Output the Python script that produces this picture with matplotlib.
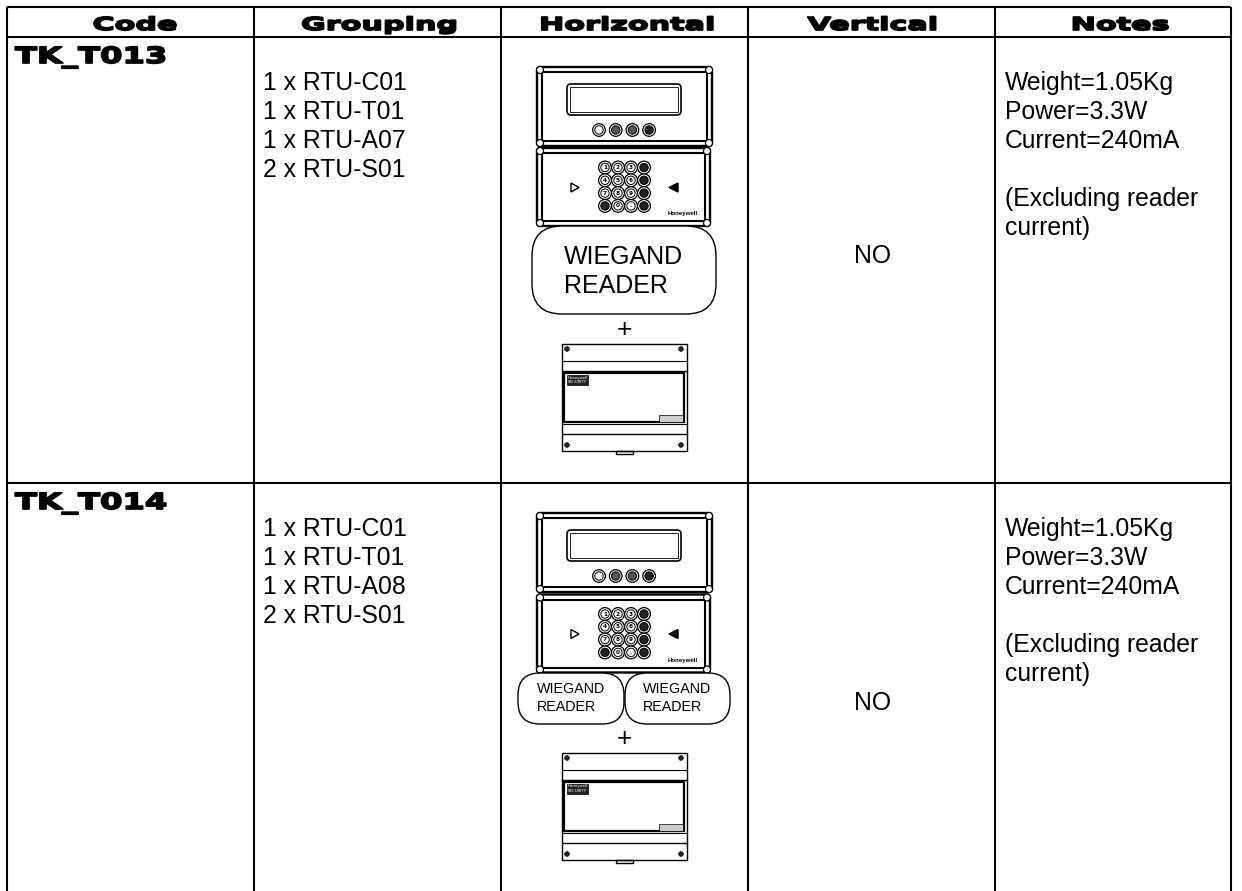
import matplotlib
matplotlib.use("Agg")
import matplotlib.pyplot as plt
from matplotlib.font_manager import FontProperties
from matplotlib.patches import Rectangle, FancyBboxPatch, Circle, Polygon
from matplotlib.text import Text
from matplotlib.textpath import TextPath
from matplotlib.transforms import Affine2D

W, H = 1242, 891

headers = ["Code", "Grouping", "Horizontal", "Vertical", "Notes"]
codes = ["TK_T013", "TK_T014"]
groupings = [
    ["1 x RTU-C01", "1 x RTU-T01", "1 x RTU-A07", "2 x RTU-S01"],
    ["1 x RTU-C01", "1 x RTU-T01", "1 x RTU-A08", "2 x RTU-S01"],
]
vertical = ["NO", "NO"]
notes = ["Weight=1.05Kg", "Power=3.3W", "Current=240mA", "", "(Excluding reader", "current)"]
keys = ["1", "2", "3", "", "4", "5", "6", "", "7", "8", "9", "", "", "0", ".", ""]

col_x = [7, 254, 501, 748, 995, 1231]
row_y = [7, 37, 483, 891]
head_nudge = [3, 0, 0, 0, 5]

TEXT = ["Liberation Sans", "DejaVu Sans"]
BODY = 17.8

fig = plt.figure(figsize=(W / 100, H / 100), dpi=100)
ax = fig.add_axes([0, 0, 1, 1])
ax.set_xlim(0, W)
ax.set_ylim(H, 0)
ax.axis("off")


class WideText(Text):
    # no heavy extended face installed, so stretch DejaVu Bold sideways when drawing
    stretch = 1.7
    stroke = 0.9

    def draw(self, renderer):
        prop = FontProperties(family="DejaVu Sans", weight="bold")
        path = TextPath((0, 0), self.get_text(), size=self.get_fontsize() * 100 / 72, prop=prop)
        box = path.get_extents()
        x, y = self.get_transform().transform(self.get_position())
        dx = -box.width * self.stretch / 2 if self.get_ha() == "center" else 0
        tr = Affine2D().scale(self.stretch, 1).translate(x + dx, y)
        gc = renderer.new_gc()
        gc.set_foreground("black")
        gc.set_linewidth(self.stroke * 100 / 72)
        renderer.draw_path(gc, path, tr, (0, 0, 0, 1))
        gc.restore()


def wide(x, y, s, size, stretch, ha="center"):
    t = WideText(x, y, s, fontsize=size, ha=ha, va="baseline")
    t.stretch = stretch
    ax.add_artist(t)


def label(x, y, s, size=BODY, **kw):
    ax.text(x, y, s, fontsize=size, family=TEXT, va="center", color="black", **kw)


def rect(x0, y0, x1, y1, lw=1.0, fc="none"):
    ax.add_patch(Rectangle((x0, y0), x1 - x0, y1 - y0, fc=fc, ec="black", lw=lw))


def round_box(x0, y0, x1, y1, rad, lw=1.0):
    ax.add_patch(FancyBboxPatch((x0 + rad, y0 + rad), x1 - x0 - 2 * rad, y1 - y0 - 2 * rad,
                                boxstyle="round,pad={},rounding_size={}".format(rad, rad),
                                fc="white", ec="black", lw=lw))


def dot(x, y, r, fc="white", lw=0.8):
    ax.add_patch(Circle((x, y), r, fc=fc, ec="black", lw=lw))


def bezel(x0, y0, x1, y1):
    round_box(x0, y0, x1, y1, 3, lw=1.7)
    rect(x0 + 5, y0 + 5, x1 - 5, y1 - 5, lw=1.5)
    for cx, cy in [(x0 + 3, y0 + 3), (x1 - 3, y0 + 3), (x0 + 3, y1 - 3), (x1 - 3, y1 - 3)]:
        dot(cx, cy, 3.5, lw=0.9)


def display_unit(y):
    bezel(537, y, 712, y + 79)
    round_box(567, y + 17, 681, y + 48, 4, lw=1.2)
    rect(570, y + 20, 678, y + 45, lw=0.6)
    fills = ["white", "#555555", "#555555", "#222222"]
    for i, fc in enumerate(fills):
        cx = 599 + i * 16.7
        dot(cx, y + 63, 6.3, lw=0.9)
        dot(cx, y + 63, 4.2, fc=fc, lw=0.7)


def keypad_unit(y):
    bezel(537, y, 710, y + 78)
    for i, key in enumerate(keys):
        col, row = i % 4, i // 4
        cx, cy = 605 + col * 13, y + 19.5 + row * 12.8
        dot(cx, cy, 6.4, lw=0.9)
        dark = key == ""
        dot(cx, cy, 4.2, fc="#222222" if dark else "white", lw=0.7)
        if not dark:
            ax.text(cx, cy, key, fontsize=4.2, weight="bold", ha="center", va="center")
    ax.add_patch(Polygon([(571, y + 35), (571, y + 44), (579, y + 39.5)], closed=True,
                         fc="white", ec="black", lw=1.0))
    ax.add_patch(Polygon([(678, y + 35), (678, y + 44), (669, y + 39.5)], closed=True,
                         fc="black", ec="black", lw=1.0))
    ax.text(683, y + 66, "Honeywell", fontsize=4.4, weight="bold", family=TEXT, ha="center",
            va="center")


def din_unit(y):
    rect(562, y, 687, y + 107, lw=1.0)
    ax.plot([562, 687], [y + 17, y + 17], color="black", lw=0.8)
    ax.plot([562, 687], [y + 27, y + 27], color="black", lw=1.0)
    ax.plot([562, 687], [y + 80, y + 80], color="black", lw=0.8)
    ax.plot([562, 687], [y + 90, y + 90], color="black", lw=1.0)
    rect(564, y + 29, 684, y + 78, lw=1.6)
    rect(567, y + 31, 588, y + 41, lw=0.5, fc="#222222")
    ax.text(577.5, y + 33.5, "Honeywell", fontsize=2.8, color="white", ha="center", va="center")
    ax.text(577.5, y + 38, "SECURITY", fontsize=2.8, color="white", ha="center", va="center")
    rect(659, y + 71, 683, y + 78, lw=0.5, fc="#cccccc")
    for cx, cy in [(567, y + 5), (681, y + 5), (567, y + 101), (681, y + 101)]:
        dot(cx, cy, 2.4, fc="#222222", lw=0.4)
    rect(616, y + 107, 633, y + 110, lw=1.0)


# table frame
for x in col_x:
    ax.plot([x, x], [row_y[0], H], color="black", lw=1.5, solid_capstyle="butt")
for y in row_y[:3]:
    ax.plot([col_x[0], col_x[-1]], [y, y], color="black", lw=1.5, solid_capstyle="butt")

for i, head in enumerate(headers):
    wide((col_x[i] + col_x[i + 1]) / 2 + head_nudge[i], 30, head, 12.8, 1.7)

for row, top in enumerate(row_y[1:3]):
    wide(15, top + 26, codes[row], 16.0, 1.45, ha="left")
    for i, s in enumerate(groupings[row]):
        label(263, top + 46 + i * 29, s, ha="left")
    label(872, 256 if row == 0 else 703, vertical[row], ha="center")
    for i, s in enumerate(notes):
        if s:
            label(1005, top + 46 + i * 29, s, ha="left")

# first row drawings
display_unit(67)
keypad_unit(148)
round_box(532, 226, 716, 314, 30, lw=1.0)
label(564, 257, "WIEGAND", size=18, ha="left")
label(564, 286, "READER", size=18, ha="left")
label(624, 330, "+", size=19, ha="center")
din_unit(344)

# second row drawings
display_unit(513)
keypad_unit(594.5)
round_box(518, 673, 624, 724, 22, lw=1.0)
round_box(625, 673, 730, 724, 22, lw=1.0)
for x0 in (537, 643):
    label(x0, 689, "WIEGAND", size=10.3, ha="left")
    label(x0, 707, "READER", size=10.3, ha="left")
label(624, 739, "+", size=19, ha="center")
din_unit(753)

fig.savefig("out.png", dpi=100)
